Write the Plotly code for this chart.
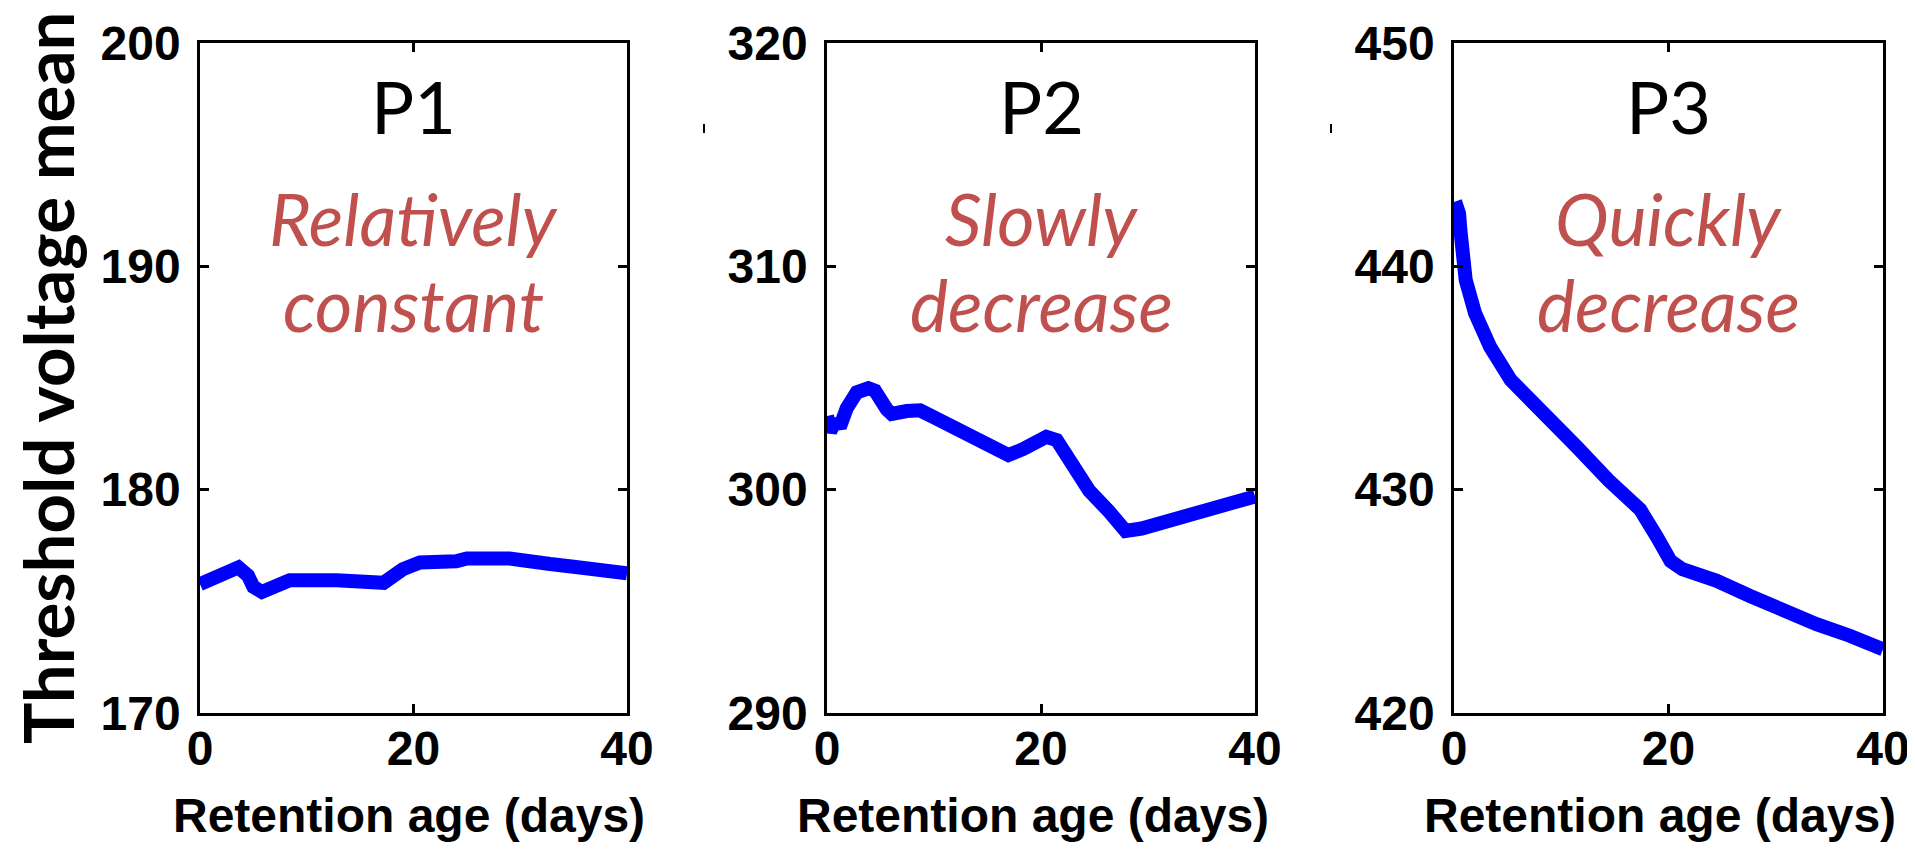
import plotly.graph_objects as go

# ---------------- data ----------------
days_p1 = [0, 1.0, 2.2, 3.6, 4.5, 5.0, 5.8, 6.5, 7.5, 8.4, 12.8, 14.7, 17.2, 19.0, 20.6, 24.0, 25.0, 29.0, 30.3, 32.8, 35.0, 37.5, 40.0]
vth_p1 = [175.77, 176.0, 176.28, 176.52, 176.15, 175.65, 175.42, 175.58, 175.85, 175.94, 175.94, 175.83, 175.83, 176.44, 176.74, 176.79, 176.92, 176.92, 176.79, 176.67, 176.55, 176.40, 176.25]

days_p2 = [0, 0.3, 0.8, 1.2, 1.84, 2.78, 3.86, 4.49, 5.58, 6.05, 7.45, 8.7, 9.94, 11.8, 13.7, 15.55, 16.95, 18.35, 19.9, 20.5, 21.47, 23.0, 24.5, 26.4, 27.9, 29.4, 32.1, 35.9, 40.0]
vth_p2 = [303.3, 302.6, 303.1, 302.8, 303.64, 304.36, 304.54, 304.43, 303.6, 303.39, 303.52, 303.55, 303.25, 302.80, 302.34, 301.89, 301.55, 301.82, 302.21, 302.37, 302.22, 301.1, 299.96, 299.0, 298.15, 298.26, 298.64, 299.1, 299.7]

days_p3 = [0.1, 0.47, 0.6, 0.78, 1.09, 1.96, 3.36, 5.28, 8.49, 11.44, 14.39, 17.36, 18.9, 20.2, 21.3, 24.5, 27.6, 30.7, 33.8, 36.9, 40.0]
vth_p3 = [442.9, 442.37, 441.6, 440.88, 439.39, 437.9, 436.4, 434.91, 433.42, 431.92, 430.43, 429.11, 427.9, 426.8, 426.44, 425.92, 425.24, 424.58, 423.98, 423.46, 422.85]

panel_names = ["P1", "P2", "P3"]
panel_notes = [["Relatively", "constant"], ["Slowly", "decrease"], ["Quickly", "decrease"]]
y_ranges = [[170, 200], [290, 320], [420, 450]]
y_ticks = [[170, 180, 190, 200], [290, 300, 310, 320], [420, 430, 440, 450]]
x_ticks = [0, 20, 40]
x_title = "Retention age (days)"
y_title = "Threshold voltage mean"

# ---------------- layout ----------------
OFF = 8                      # default page margin of the html body
W, H = 1915 - 2 * OFF, 850 - 2 * OFF


def px(x):
    return (x - OFF) / W


def py(y):
    return 1 - (y - OFF) / H


x_domains = [[px(200), px(627)], [px(827), px(1255)], [px(1454), px(1883)]]
y_domain = [py(713), py(43)]
x_title_centers = [408.5, 1033, 1660]

fig = go.Figure()
series = [(days_p1, vth_p1), (days_p2, vth_p2), (days_p3, vth_p3)]
tick_font = dict(family="Liberation Sans", size=48, color="black", weight="bold")

for i, (xs, ys) in enumerate(series):
    n = "" if i == 0 else str(i + 1)
    fig.add_trace(go.Scatter(x=xs, y=ys, mode="lines",
                             line=dict(color="#0000FF", width=14),
                             xaxis="x" + n, yaxis="y" + n, showlegend=False))
    common = dict(showline=True, linecolor="black", linewidth=2.5, mirror="ticks",
                  ticks="inside", ticklen=9, tickwidth=2.5, tickcolor="black",
                  showgrid=False, zeroline=False, tickfont=tick_font, automargin=False,
                  ticklabeloverflow="allow")
    fig.layout["xaxis" + n] = dict(domain=x_domains[i], range=[0, 40], tickvals=x_ticks,
                                   anchor="y" + n, ticklabelstandoff=-8, **common)
    fig.layout["yaxis" + n] = dict(domain=y_domain, range=y_ranges[i], tickvals=y_ticks[i],
                                   anchor="x" + n, ticklabelstandoff=7, **common)
    xc = (x_domains[i][0] + x_domains[i][1]) / 2
    fig.add_annotation(text=panel_names[i], x=xc, y=py(106), xref="paper", yref="paper",
                       xanchor="center", yanchor="middle", showarrow=False,
                       font=dict(family="Lato", size=72, color="black"))
    for line_text, yc in zip(panel_notes[i], [218, 304]):
        fig.add_annotation(text=line_text, x=xc, y=py(yc), xref="paper", yref="paper",
                           xanchor="center", yanchor="middle", showarrow=False,
                           font=dict(family="Lato", size=72, color="#C0504D", style="italic"))
    fig.add_annotation(text=x_title, x=px(x_title_centers[i]), y=py(815), xref="paper", yref="paper",
                       xanchor="center", yanchor="middle", showarrow=False,
                       font=dict(family="Liberation Sans", size=48, color="black", weight="bold"))

fig.add_annotation(text=y_title, x=px(47), y=py(378), xref="paper", yref="paper",
                   xanchor="center", yanchor="middle", showarrow=False, textangle=-90,
                   font=dict(family="Lato", size=69, color="black", weight="bold"))

# small stray marks seen in the original figure
for xm in [704, 1331]:
    fig.add_shape(type="line", xref="paper", yref="paper", x0=px(xm), x1=px(xm),
                  y0=py(124), y1=py(133), line=dict(color="black", width=2))

fig.update_layout(template="none", width=W, height=H,
                  margin=dict(l=0, r=0, t=0, b=0, autoexpand=False),
                  paper_bgcolor="white", plot_bgcolor="white")

fig.write_html("out.html", config={"displayModeBar": False})
